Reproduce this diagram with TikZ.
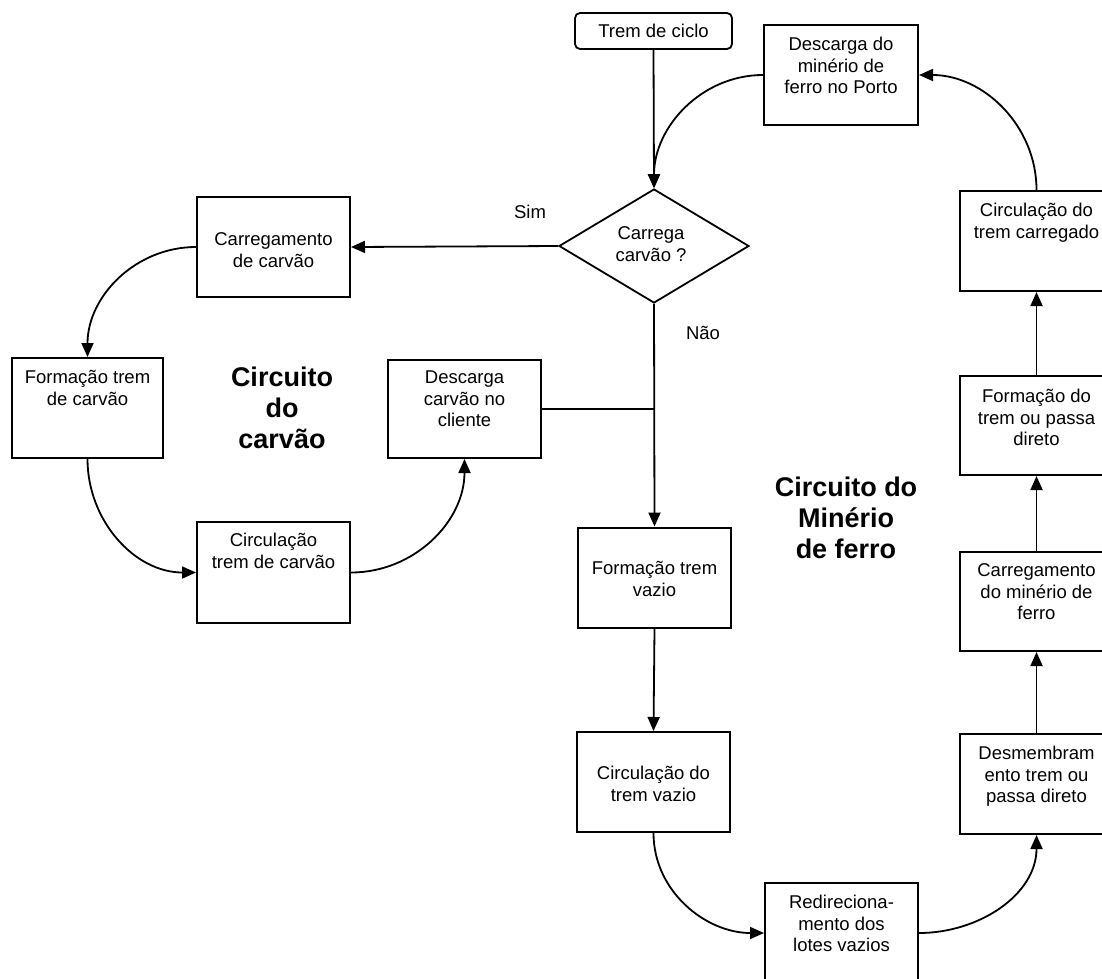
\documentclass[tikz,border=0pt]{standalone}
\usepackage{fontspec}
\setmainfont{Liberation Sans}
\usetikzlibrary{shapes.geometric,arrows.meta}
% centred multi-line text whose reference point is the first baseline
\newcommand{\stagetext}[1]{\parbox[t]{200pt}{\centering #1}}

\begin{document}
\begin{tikzpicture}[x=1pt,y=1pt,
  stage/.style={draw, line width=2pt, rectangle, inner sep=0pt,
                minimum width=153pt, minimum height=100pt},
  lbl/.style={anchor=base, inner sep=0pt, font=\fontsize{18.5}{21.5}\selectfont},
  plain/.style={inner sep=0pt, font=\fontsize{18.5}{21.5}\selectfont},
  title/.style={anchor=base, inner sep=0pt, font=\fontsize{27}{31}\selectfont\bfseries},
  flow/.style={line width=1.8pt, -{Triangle[length=14pt,width=12pt]}},
  link/.style={line width=1.8pt},
]
\useasboundingbox (0,0) rectangle (1102,-978);
\fill[white] (0,0) rectangle (1102,-978);
\clip (0,0) rectangle (1102,-978);

% start and decision
\node[draw, rounded corners=5pt, line width=1.8pt, minimum width=157pt,
      minimum height=36pt, inner sep=0pt, font=\fontsize{18.5}{21.5}\selectfont]
      (tc) at (653.5,-31) {Trem de ciclo};
\node[draw, diamond, line width=1.8pt, inner sep=0pt, minimum width=190pt,
      minimum height=114pt] (q) at (654,-246) {};
\node[lbl] (qt) at (651,-239.5) {\stagetext{Carrega\\carvão ?}};

% coal circuit
\node[stage] (cc) at (273.5,-247) {};
\node[lbl] (cct) at (273.5,-245.5) {\stagetext{Carregamento\\de carvão}};
\node[stage, minimum width=151pt] (fc) at (87.5,-408) {};
\node[lbl] (fct) at (87.5,-383.5) {\stagetext{Formação trem\\de carvão}};
\node[stage, minimum height=101pt] (ct) at (273.5,-572.5) {};
\node[lbl] (ctt) at (273.5,-546.5) {\stagetext{Circulação\\trem de carvão}};
\node[stage, minimum height=98pt] (dc) at (464.5,-409) {};
\node[lbl] (dct) at (464.5,-383.5) {\stagetext{Descarga\\carvão no\\cliente}};

% empty train path
\node[stage] (fv) at (654.5,-577.5) {};
\node[lbl] (fvt) at (654.5,-574.5) {\stagetext{Formação trem\\vazio}};
\node[stage] (cv) at (653.5,-782) {};
\node[lbl] (cvt) at (653.5,-779.5) {\stagetext{Circulação do\\trem vazio}};
\node[stage] (rd) at (841.5,-933) {};
\node[lbl] (rdt) at (841.5,-908.5) {\stagetext{Redireciona-\\mento dos\\lotes vazios}};

% iron ore circuit
\node[stage] (ds) at (1036.5,-784) {};
\node[lbl] (dst) at (1036.5,-759.5) {\stagetext{Desmembram\\ento trem ou\\passa direto}};
\node[stage, minimum height=99pt] (cm) at (1036.5,-601.5) {};
\node[lbl] (cmt) at (1036.5,-576.5) {\stagetext{Carregamento\\do minério de\\ferro}};
\node[stage, minimum height=99pt] (ft) at (1036.5,-425.5) {};
\node[lbl] (ftt) at (1036.5,-402.5) {\stagetext{Formação do\\trem ou passa\\direto}};
\node[stage] (cr) at (1036.5,-241) {};
\node[lbl] (crt) at (1036.5,-216.5) {\stagetext{Circulação do\\trem carregado}};
\node[stage, minimum width=154pt] (dm) at (841,-75) {};
\node[lbl] (dmt) at (841,-50.5) {\stagetext{Descarga do\\minério de\\ferro no Porto}};

% circuit titles and branch labels
\node[title] (tcar) at (282,-386.5) {\stagetext{Circuito\\do\\carvão}};
\node[title] (tmin) at (846,-496.5) {\stagetext{Circuito do\\Minério\\de ferro}};
\node[plain] (sim) at (530,-212) {Sim};
\node[plain] (nao) at (703,-333) {Não};

% connectors
\draw[flow] (tc.south) -- (q.north);
\draw[flow] (dm.west) to[out=180,in=90] (q.north);
\draw[flow] (q.west) -- (cc.east);
\draw[flow] (cc.west) to[out=180,in=90] (fc.north);
\draw[flow] (fc.south) to[out=-90,in=180] (ct.west);
\draw[flow] (ct.east) to[out=0,in=-90] (dc.south);
\coordinate (join) at (654,-409);
\draw[link] (dc.east) -- (join);
\draw[flow] (q.south) -- (fv.north);
\draw[flow] (fv.south) -- (cv.north);
\draw[flow] (cv.south) to[out=-90,in=180] (rd.west);
\draw[flow] (rd.east) to[out=0,in=-90] (ds.south);
\draw[flow] (ds.north) -- (cm.south);
\draw[flow] (cm.north) -- (ft.south);
\draw[flow] (ft.north) -- (cr.south);
\draw[flow] (cr.north) to[out=90,in=0] (dm.east);
\end{tikzpicture}
\end{document}
